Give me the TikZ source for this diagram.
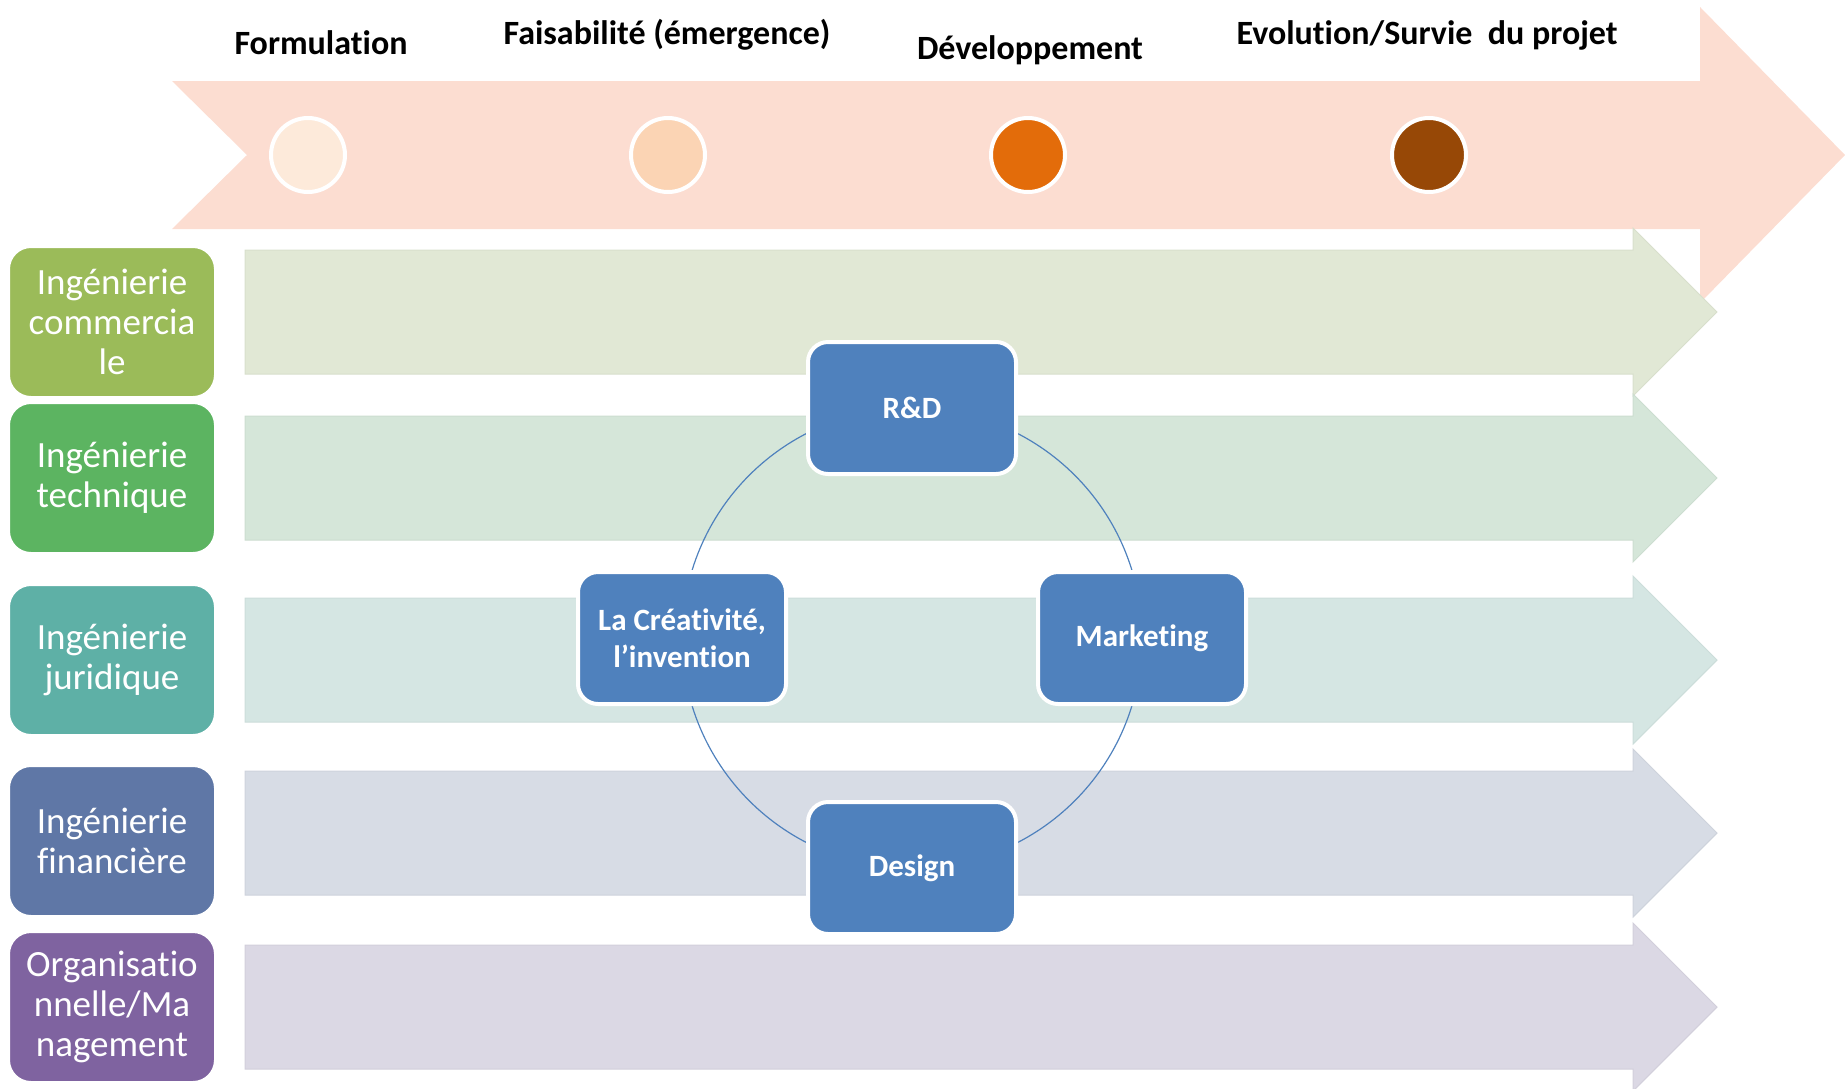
\documentclass[tikz,border=0pt]{standalone}
\usepackage{fontspec}
\setmainfont{Carlito}[Ligatures = NoCommon]

\definecolor{phaseBand}{HTML}{FCDDD1}
\definecolor{dotFormul}{HTML}{FDEADA}
\definecolor{dotFaisab}{HTML}{FBD4B4}
\definecolor{dotDevel}{HTML}{E36C0A}
\definecolor{dotEvol}{HTML}{974806}
\definecolor{bandCom}{HTML}{E1E8D5}
\definecolor{bandTech}{HTML}{D5E6D9}
\definecolor{bandJur}{HTML}{D5E6E3}
\definecolor{bandFin}{HTML}{D7DCE5}
\definecolor{bandOrg}{HTML}{DBD8E4}
\definecolor{boxCom}{HTML}{9BBB59}
\definecolor{boxTech}{HTML}{5CB461}
\definecolor{boxJur}{HTML}{5EB0A6}
\definecolor{boxFin}{HTML}{5F77A6}
\definecolor{boxOrg}{HTML}{7F63A0}
\definecolor{poleBlue}{HTML}{4F81BD}

\begin{document}
\begin{tikzpicture}[x = 0.5pt, y = -0.5pt]
\tikzstyle{phaseLabel} = [font = \fontsize{17}{20}\selectfont\bfseries, text = black, inner sep = 0pt]
\tikzstyle{phaseDot} = [shape = circle, minimum size = 37pt, inner sep = 0pt, draw = white, line width = 2pt]
\tikzstyle{domainStyle} = [shape = rectangle, rounded corners = 11pt, minimum width = 103pt, minimum height = 75pt, align = center, text = white, draw = white, line width = 1pt, font = \fontsize{18.5}{20}\selectfont]
\tikzstyle{poleStyle} = [shape = rectangle, rounded corners = 10pt, minimum width = 104pt, minimum height = 66pt, align = center, text = white, fill = poleBlue, draw = white, line width = 2pt, font = \fontsize{15.5}{18.5}\selectfont\bfseries]
\tikzstyle{ringStyle} = [draw = poleBlue, line width = 0.6pt]
\useasboundingbox (0,0) rectangle (1845,1088);
% phases
\fill[phaseBand] (172,81) -- (1700,81) -- (1700,7) -- (1845,155) -- (1700,303) -- (1700,229) -- (172,229) -- (247,155) -- cycle;
% domain bands
\filldraw[fill = bandCom, draw = bandCom!96!black, line width = 0.5pt] (245,250) -- (1633,250) -- (1633,228) -- (1717,312) -- (1633,396) -- (1633,374) -- (245,374) -- cycle;
\filldraw[fill = bandTech, draw = bandTech!96!black, line width = 0.5pt] (245,416) -- (1633,416) -- (1633,394) -- (1717,478) -- (1633,562) -- (1633,540) -- (245,540) -- cycle;
\filldraw[fill = bandJur, draw = bandJur!96!black, line width = 0.5pt] (245,598) -- (1633,598) -- (1633,576) -- (1717,660) -- (1633,744) -- (1633,722) -- (245,722) -- cycle;
\filldraw[fill = bandFin, draw = bandFin!96!black, line width = 0.5pt] (245,771) -- (1633,771) -- (1633,749) -- (1717,833) -- (1633,917) -- (1633,895) -- (245,895) -- cycle;
\filldraw[fill = bandOrg, draw = bandOrg!96!black, line width = 0.5pt] (245,945) -- (1633,945) -- (1633,923) -- (1717,1007) -- (1633,1091) -- (1633,1069) -- (245,1069) -- cycle;
\node[phaseDot, fill = dotFormul] (dot1) at (308,155) {};
\node[phaseDot, fill = dotFaisab] (dot2) at (668,155) {};
\node[phaseDot, fill = dotDevel] (dot3) at (1028,155) {};
\node[phaseDot, fill = dotEvol] (dot4) at (1429,155) {};
\node[phaseLabel] (ph1) at (321,43) {Formulation};
\node[phaseLabel] (ph2) at (667,35) {Faisabilité (émergence)};
\node[phaseLabel] (ph3) at (1030,50) {Développement};
\node[phaseLabel] (ph4) at (1427,35) {Evolution/Survie\ \ du projet};
\node[domainStyle, fill = boxCom] (dCom) at (112,322) {Ingénierie\\commercia\\le};
\node[domainStyle, fill = boxTech] (dTech) at (112,478) {Ingénierie\\technique};
\node[domainStyle, fill = boxJur] (dJur) at (112,660) {Ingénierie\\juridique};
\node[domainStyle, fill = boxFin] (dFin) at (112,841) {Ingénierie\\financière};
\node[domainStyle, fill = boxOrg] (dOrg) at (112,1007) {Organisatio\\nnelle/Ma\\nagement};
% cycle
\coordinate (pRD) at (912,408);
\coordinate (pCrea) at (682,638);
\coordinate (pDes) at (912,868);
\coordinate (pMkt) at (1142,638);
\draw[ringStyle] (pRD) to[bend right = 45] (pCrea);
\draw[ringStyle] (pCrea) to[bend right = 45] (pDes);
\draw[ringStyle] (pDes) to[bend right = 45] (pMkt);
\draw[ringStyle] (pMkt) to[bend right = 45] (pRD);
\node[poleStyle] (rd) at (pRD) {R\&D};
\node[poleStyle] (crea) at (pCrea) {La Créativité,\\l’invention};
\node[poleStyle] (des) at (pDes) {Design};
\node[poleStyle] (mkt) at (pMkt) {Marketing};
\end{tikzpicture}
\end{document}
